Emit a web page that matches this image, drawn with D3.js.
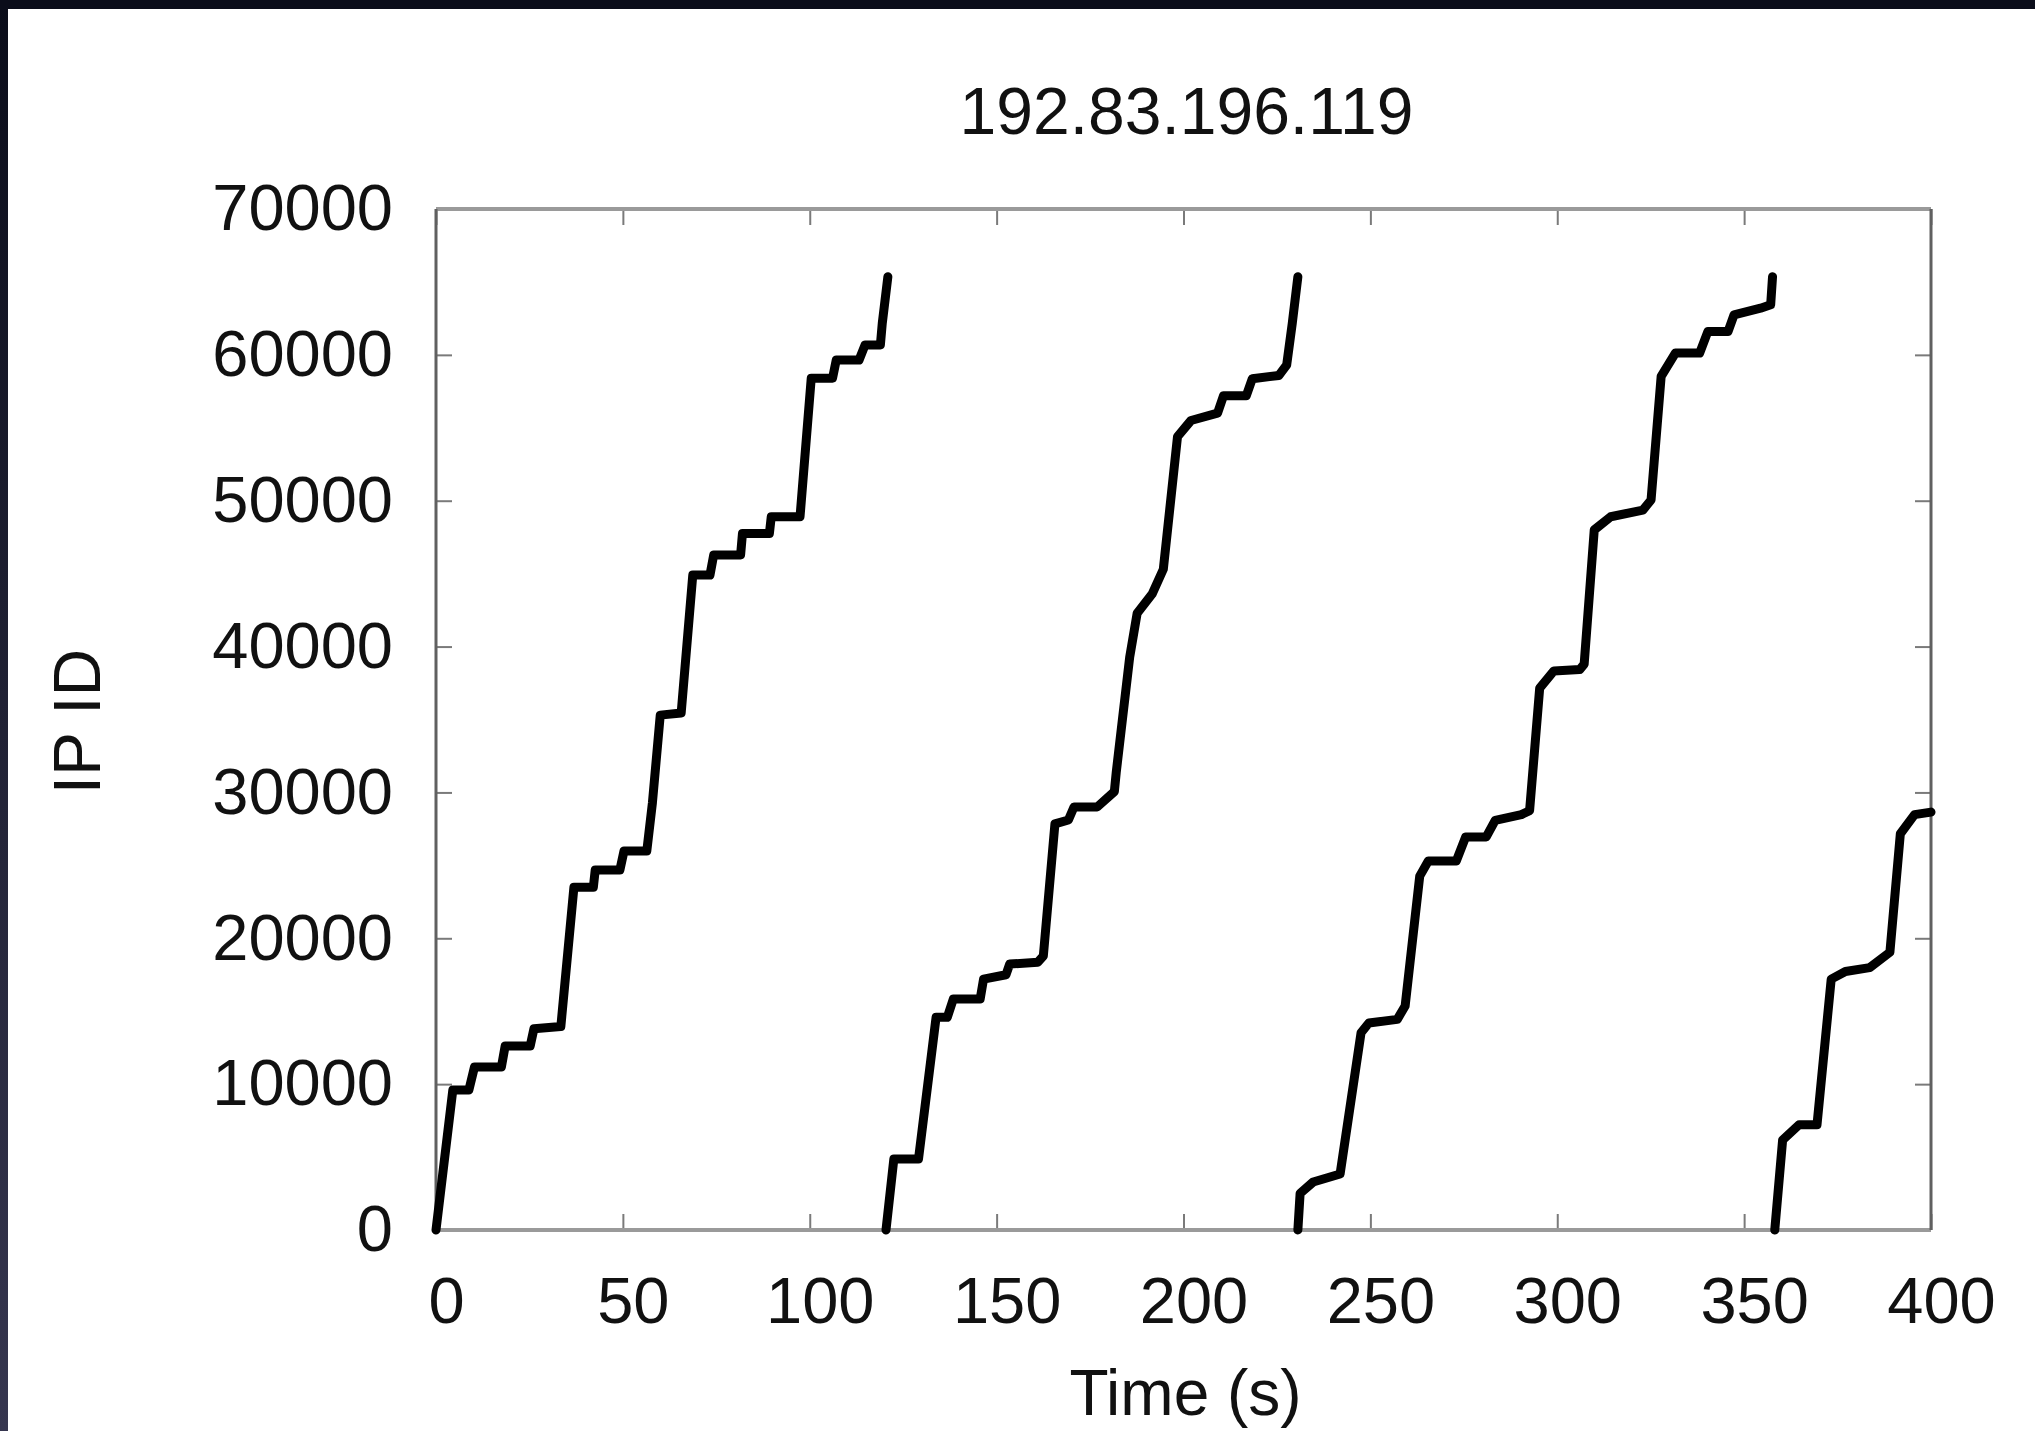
<!DOCTYPE html>
<html>
<head>
<meta charset="utf-8">
<script src="https://cdn.jsdelivr.net/npm/d3@7"></script>
<style>
  html, body { margin: 0; padding: 0; background: #ffffff; }
  svg { display: block; }
  text { font-family: "Liberation Sans", Arial, Helvetica, sans-serif; fill: #111; }
</style>
</head>
<body>
<script>
// ---- data ----
const chartTitle = "192.83.196.119";
const xLabel = "Time (s)";
const yLabel = "IP ID";
const xTicks = [0, 50, 100, 150, 200, 250, 300, 350, 400];
const yTicks = [0, 10000, 20000, 30000, 40000, 50000, 60000, 70000];

const wrap1Time = [0, 4.5, 8.8, 10.3, 17.5, 18.5, 25.2, 26.2, 33.4, 36.9, 42.1, 42.6, 49.2, 50.3, 56.4, 57.9, 60.0, 65.6, 68.7, 73.3, 74.3, 81.5, 82.0, 89.2, 89.7, 97.4, 100.4, 106.1, 107.1, 113.2, 114.8, 118.9, 119.4, 120.9];
const wrap1Id   = [0, 9600, 9600, 11180, 11180, 12620, 12620, 13800, 13950, 23500, 23500, 24680, 24680, 25980, 25980, 29280, 35300, 35450, 44900, 44900, 46280, 46280, 47760, 47760, 48900, 48900, 58400, 58400, 59650, 59650, 60680, 60680, 62160, 65360];

const wrap2Time = [120.4, 122.5, 129.1, 133.8, 136.8, 138.4, 145.6, 146.5, 152.5, 153.5, 161.0, 162.5, 165.6, 169.2, 170.7, 176.9, 181.5, 182.0, 185.6, 187.6, 191.6, 194.6, 198.4, 202.0, 209.1, 210.7, 216.8, 218.4, 225.5, 227.6, 229.1, 230.6];
const wrap2Id   = [0, 4870, 4870, 14580, 14580, 15830, 15830, 17200, 17500, 18230, 18360, 18790, 27840, 28110, 29000, 29000, 30060, 31370, 39270, 42280, 43600, 45300, 54400, 55500, 56000, 57200, 57200, 58360, 58590, 59300, 62160, 65360];

const wrap3Time = [230.6, 231.2, 234.7, 241.9, 247.5, 249.6, 257.2, 259.3, 263.2, 265.5, 273.0, 275.5, 281.0, 283.4, 290.4, 292.6, 295.3, 299.1, 306.0, 307.2, 309.9, 314.3, 322.9, 325.1, 327.8, 331.6, 338.1, 340.3, 345.7, 347.3, 354.4, 357.1, 357.6];
const wrap3Id   = [0, 2510, 3290, 3840, 13520, 14190, 14440, 15360, 24260, 25300, 25300, 26950, 26950, 28090, 28480, 28750, 37150, 38330, 38420, 38800, 48000, 48900, 49360, 50050, 58520, 60120, 60120, 61600, 61600, 62740, 63200, 63430, 65360];

const wrap4Time = [358.2, 360.3, 364.7, 369.5, 373.3, 377.1, 383.6, 389.0, 391.8, 395.6, 400.0];
const wrap4Id   = [0, 6170, 7220, 7220, 17200, 17720, 17990, 19040, 27170, 28480, 28650];

const wraps = [
  [wrap1Time, wrap1Id],
  [wrap2Time, wrap2Id],
  [wrap3Time, wrap3Id],
  [wrap4Time, wrap4Id]
];

// ---- layout ----
const W = 2035, H = 1431;
const plot = { left: 436, right: 1931, top: 209, bottom: 1230 };
const fontSize = 65;

const svg = d3.select("body").append("svg")
  .attr("width", W).attr("height", H);

// dark window frame (top & left)
const defs = svg.append("defs");
const grad = defs.append("linearGradient").attr("id", "frameGrad")
  .attr("x1", 0).attr("y1", 0).attr("x2", 0).attr("y2", 1);
grad.append("stop").attr("offset", "0%").attr("stop-color", "#0b0d1a");
grad.append("stop").attr("offset", "100%").attr("stop-color", "#36364f");
svg.append("rect").attr("x", 0).attr("y", 0).attr("width", W).attr("height", H).attr("fill", "#ffffff");
svg.append("rect").attr("x", 0).attr("y", 0).attr("width", 8).attr("height", H).attr("fill", "url(#frameGrad)");
svg.append("rect").attr("x", 0).attr("y", 0).attr("width", W).attr("height", 9).attr("fill", "#0b0d1a");

const x = d3.scaleLinear().domain([0, 400]).range([plot.left, plot.right]);
const y = d3.scaleLinear().domain([0, 70000]).range([plot.bottom, plot.top]);

const tickLen = 16;

// bottom axis with labels
const gx = svg.append("g").attr("transform", `translate(0,${plot.bottom})`)
  .call(d3.axisBottom(x).tickValues(xTicks).tickSizeInner(-tickLen).tickSizeOuter(0).tickPadding(47).tickFormat(d3.format("d")));
gx.select(".domain").remove();
gx.selectAll(".tick line").attr("stroke", "#7a7a7a").attr("stroke-width", 2);
gx.selectAll(".tick text").attr("font-size", fontSize).attr("fill", "#111")
  .attr("font-family", "Liberation Sans, Arial, sans-serif").attr("dx", 10);

// top axis (ticks only)
const gxt = svg.append("g").attr("transform", `translate(0,${plot.top})`)
  .call(d3.axisTop(x).tickValues(xTicks).tickSizeInner(-tickLen).tickSizeOuter(0).tickFormat(""));
gxt.select(".domain").remove();
gxt.selectAll(".tick line").attr("stroke", "#7a7a7a").attr("stroke-width", 2);

// left axis with labels
const gy = svg.append("g").attr("transform", `translate(${plot.left},0)`)
  .call(d3.axisLeft(y).tickValues(yTicks).tickSizeInner(-tickLen).tickSizeOuter(0).tickPadding(43).tickFormat(d3.format("d")));
gy.select(".domain").remove();
gy.selectAll(".tick line").attr("stroke", "#7a7a7a").attr("stroke-width", 2);
gy.selectAll(".tick text").attr("font-size", fontSize).attr("fill", "#111")
  .attr("font-family", "Liberation Sans, Arial, sans-serif");

// right axis (ticks only)
const gyr = svg.append("g").attr("transform", `translate(${plot.right},0)`)
  .call(d3.axisRight(y).tickValues(yTicks).tickSizeInner(-tickLen).tickSizeOuter(0).tickFormat(""));
gyr.select(".domain").remove();
gyr.selectAll(".tick line").attr("stroke", "#7a7a7a").attr("stroke-width", 2);

// frame
svg.append("line").attr("x1", plot.left).attr("x2", plot.right).attr("y1", plot.top).attr("y2", plot.top)
  .attr("stroke", "#9a9a9a").attr("stroke-width", 4);
svg.append("line").attr("x1", plot.left).attr("x2", plot.right).attr("y1", plot.bottom).attr("y2", plot.bottom)
  .attr("stroke", "#9a9a9a").attr("stroke-width", 4);
svg.append("line").attr("x1", plot.left).attr("x2", plot.left).attr("y1", plot.top).attr("y2", plot.bottom)
  .attr("stroke", "#606060").attr("stroke-width", 3);
svg.append("line").attr("x1", plot.right).attr("x2", plot.right).attr("y1", plot.top).attr("y2", plot.bottom)
  .attr("stroke", "#606060").attr("stroke-width", 3);

// data lines
const line = d3.line().x(d => x(d[0])).y(d => y(d[1]));
wraps.forEach(([ts, ids]) => {
  const pts = ts.map((t, i) => [t, ids[i]]);
  svg.append("path").datum(pts)
    .attr("d", line)
    .attr("fill", "none")
    .attr("stroke", "#000")
    .attr("stroke-width", 9)
    .attr("stroke-linejoin", "round")
    .attr("stroke-linecap", "round");
});

// title & axis labels
svg.append("text").attr("x", (plot.left + plot.right) / 2 + 3).attr("y", 134)
  .attr("text-anchor", "middle").attr("font-size", 66).text(chartTitle);
svg.append("text").attr("x", (plot.left + plot.right) / 2 + 2).attr("y", 1415)
  .attr("text-anchor", "middle").attr("font-size", 64).text(xLabel);
svg.append("text").attr("transform", `translate(100,${(plot.top + plot.bottom) / 2 + 2}) rotate(-90)`)
  .attr("text-anchor", "middle").attr("font-size", 66).text(yLabel);
</script>
</body>
</html>
